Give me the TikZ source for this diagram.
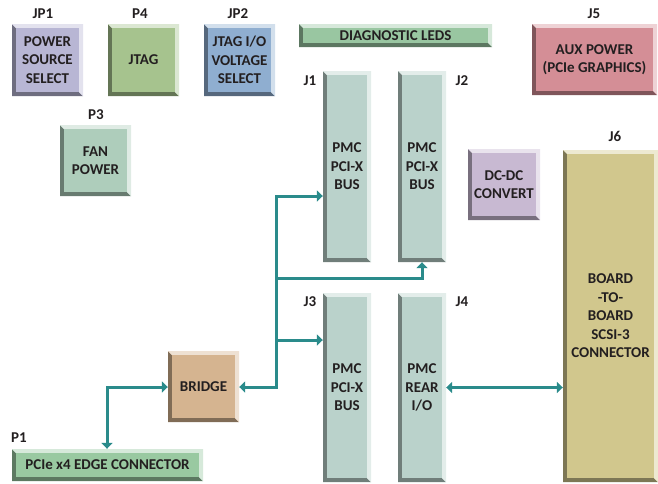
\documentclass[tikz,border=0pt]{standalone}
\usepackage{fontspec}
\setmainfont{Carlito}
\usepackage{tikz}
\usetikzlibrary{positioning, arrows.meta, calc}

\definecolor{busteal}{RGB}{42,139,139}
\definecolor{boxtext}{RGB}{35,31,32}
\definecolor{cSource}{RGB}{184,182,212}
\definecolor{cJtag}{RGB}{166,195,142}
\definecolor{cJtagio}{RGB}{143,174,208}
\definecolor{cFan}{RGB}{174,205,187}
\definecolor{cDiag}{RGB}{153,198,161}
\definecolor{cAux}{RGB}{212,142,150}
\definecolor{cPmc}{RGB}{186,210,203}
\definecolor{cDcdc}{RGB}{200,185,210}
\definecolor{cScsi}{RGB}{209,199,141}
\definecolor{cBridge}{RGB}{213,180,144}
\definecolor{cEdge}{RGB}{153,201,161}

\def\bev{4pt}
\def\boxfont{\bfseries\fontsize{15}{18.5}\selectfont}

\tikzset{
    blk/.style={rectangle, inner sep=0pt, align=center, fill=#1,
        font=\boxfont, text=boxtext,
        path picture={
            % dark bevel, left and bottom
            \fill[#1!60!black]
                (path picture bounding box.north west) -- (path picture bounding box.south west)
                -- (path picture bounding box.south east)
                -- ([xshift=-\bev,yshift=\bev]path picture bounding box.south east)
                -- ([xshift=\bev,yshift=\bev]path picture bounding box.south west)
                -- ([xshift=\bev,yshift=-\bev]path picture bounding box.north west) -- cycle;
            % light bevel, top and right
            \fill[#1!40!white]
                (path picture bounding box.north west) -- (path picture bounding box.north east)
                -- (path picture bounding box.south east)
                -- ([xshift=-\bev,yshift=\bev]path picture bounding box.south east)
                -- ([xshift=-\bev,yshift=-\bev]path picture bounding box.north east)
                -- ([xshift=\bev,yshift=-\bev]path picture bounding box.north west) -- cycle;
            \fill[#1]
                ([xshift=\bev,yshift=\bev]path picture bounding box.south west)
                rectangle ([xshift=-\bev,yshift=-\bev]path picture bounding box.north east);
        }},
    tag/.style={font=\boxfont, text=boxtext, inner sep=0pt},
    bus/.style={busteal, line width=3pt},
    bushead/.tip={Triangle[length=6pt,width=11pt]},
}

\begin{document}
\begin{tikzpicture}[x=1pt, y=-1pt]
    \useasboundingbox (0,0) rectangle (658,483);

    % blocks
    \foreach \name/\cx/\cy/\w/\h/\co/\txt in {
        jp1/47.5/60/71/72/cSource/{POWER\\SOURCE\\SELECT},
        p4/143.5/60/71/72/cJtag/{JTAG},
        jp2/239.5/60/71/72/cJtagio/{JTAG I/O\\VOLTAGE\\SELECT},
        p3/95.5/160.5/71/71/cFan/{FAN\\POWER},
        diag/395.5/35.5/193/23/cDiag/{DIAGNOSTIC LEDS},
        j5/594.5/59.5/125/71/cAux/{AUX POWER\\(PCIe GRAPHICS)},
        j1/347/166.5/48/191/cPmc/{PMC\\PCI-X\\BUS},
        j2/422/166.5/48/191/cPmc/{PMC\\PCI-X\\BUS},
        dcdc/504/184.5/72/71/cDcdc/{DC-DC\\CONVERT},
        j6/610.5/316/95/332/cScsi/{BOARD\\-TO-\\BOARD\\SCSI-3\\CONNECTOR},
        j3/347/387.5/48/189/cPmc/{PMC\\PCI-X\\BUS},
        j4/422/387.5/48/189/cPmc/{PMC\\REAR\\I/O},
        brg/203.5/386.5/71/71/cBridge/{BRIDGE},
        edge/107.5/465/191/32/cEdge/{PCIe x4 EDGE CONNECTOR}}{
        \node[blk=\co, minimum width=\w, minimum height=\h] (\name) at (\cx,\cy) {\txt};
    }

    % designators
    \foreach \name/\lx/\ly/\txt in {
        jp1/43/14/JP1, p4/140/14/P4, jp2/238/14/JP2, p3/96/115/P3,
        j5/594/14/J5, j1/310/81/J1, j2/462/81/J2, j6/615/136/J6,
        j3/310/302/J3, j4/462/302/J4, edge/19/438/P1}{
        \node[tag] (lbl-\name) at (\lx,\ly) {\txt};
    }

    % bus
    \coordinate (b1) at (276,196);
    \coordinate (b2) at (276,278);
    \coordinate (b3) at (276,340);
    \coordinate (b4) at (276,387);
    \coordinate (e1) at (107,387);

    \draw[bus, {bushead}-{bushead}] (b1 -| j1.west) -- (b1) -- (b4) -- (b4 -| brg.east);
    \draw[bus, -{bushead}] (b2) -- (b2 -| j2.south) -- (j2.south);
    \draw[bus, -{bushead}] (b3) -- (b3 -| j3.west);
    \draw[bus, {bushead}-{bushead}] (e1 -| brg.west) -- (e1) -- (e1 |- edge.north);
    \draw[bus, {bushead}-{bushead}] (j4.east) -- (j4.east -| j6.west);
\end{tikzpicture}
\end{document}
